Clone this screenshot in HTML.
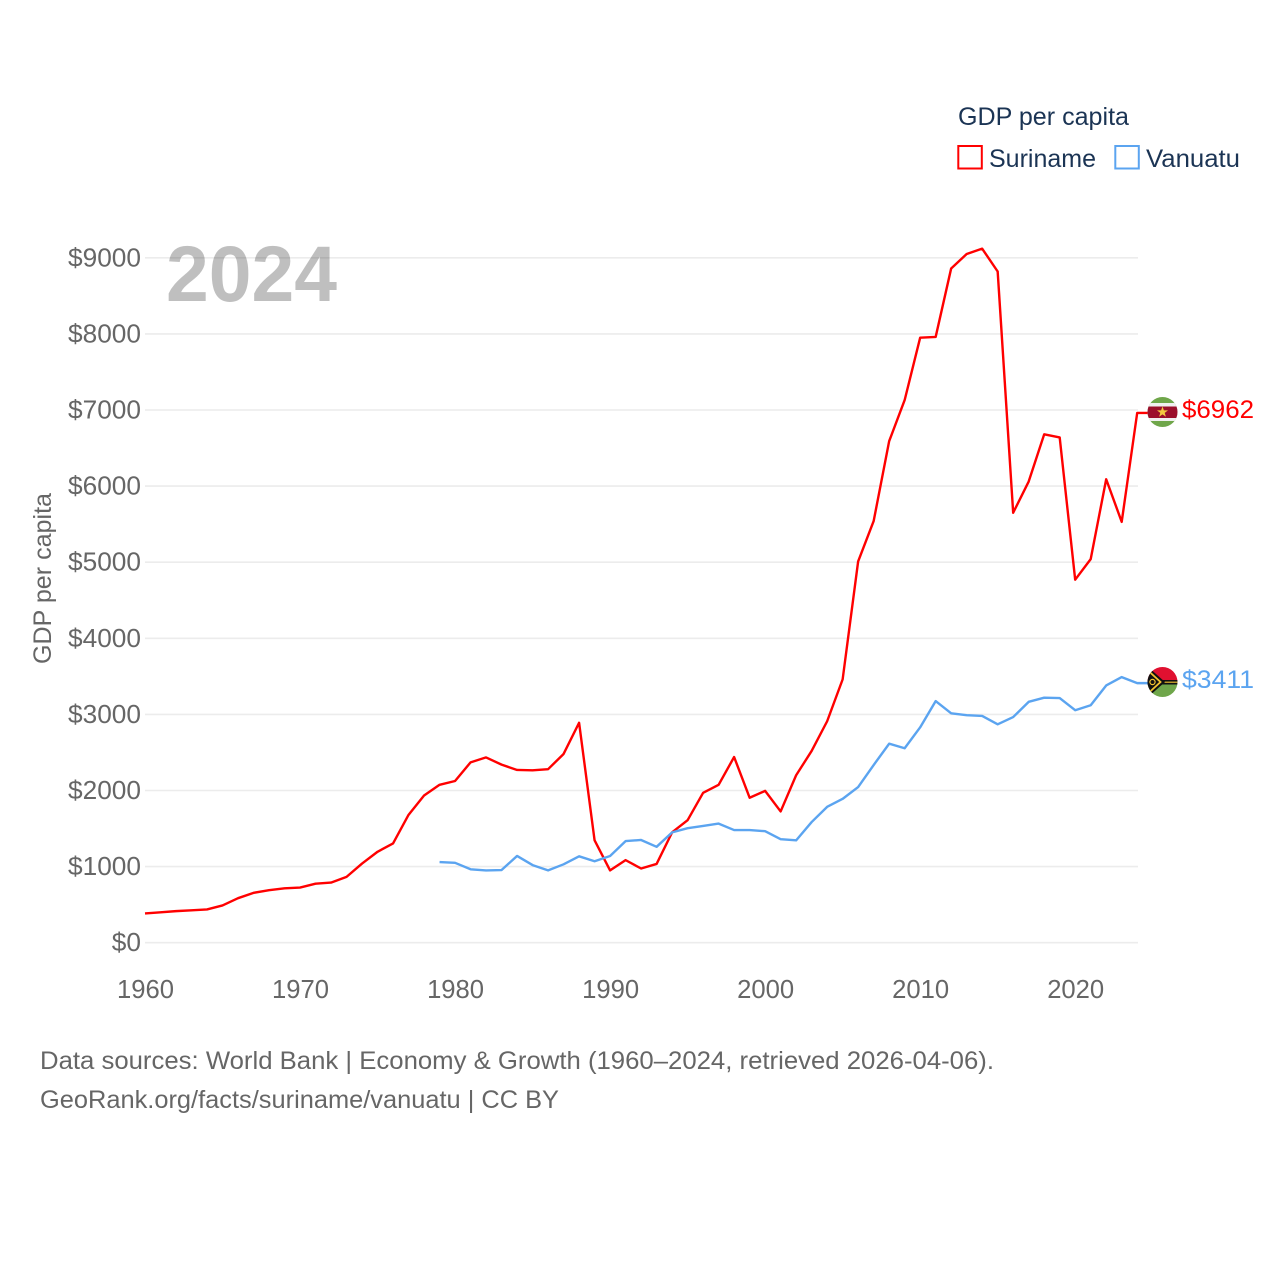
<!DOCTYPE html>
<html lang="en">
<head>
<meta charset="utf-8">
<title>GDP per capita: Suriname and Vanuatu</title>
<style>
html,body{margin:0;padding:0;background:#fff;width:1280px;height:1280px;overflow:hidden}
svg{display:block}
text{font-family:"Liberation Sans",sans-serif}
</style>
</head>
<body>
<svg id="chart" width="1280" height="1280" viewBox="0 0 1280 1280" xmlns="http://www.w3.org/2000/svg">
  <defs>
    <clipPath id="clip-sr"><circle cx="1162.5" cy="412" r="15"/></clipPath>
    <clipPath id="clip-vu"><circle cx="1162.5" cy="682" r="15"/></clipPath>
  </defs>
  <g id="grid"></g>
  <g id="y-ticks"></g>
  <g id="x-ticks"></g>
  <text x="166" y="301" font-size="79" font-weight="700" fill="#000000" fill-opacity="0.25" textLength="171" lengthAdjust="spacingAndGlyphs">2024</text>
  <text transform="translate(51,664) rotate(-90)" font-size="25" fill="#666666" textLength="171" lengthAdjust="spacingAndGlyphs">GDP per capita</text>
  <g id="series"></g>

  <g clip-path="url(#clip-sr)">
    <rect x="1147" y="397" width="31" height="30" fill="#6fa64a"/>
    <rect x="1147" y="403" width="31" height="18" fill="#f0f0f0"/>
    <rect x="1147" y="406.5" width="31" height="11.5" fill="#9b0f2b"/>
    <polygon points="1162.5,406.5 1163.9,410.4 1168,410.4 1164.7,412.9 1165.9,416.8 1162.5,414.4 1159.1,416.8 1160.3,412.9 1157,410.4 1161.1,410.4" fill="#f4c93f"/>
  </g>
  <g clip-path="url(#clip-vu)">
    <rect x="1147" y="667" width="31" height="15" fill="#e01030"/>
    <rect x="1147" y="682" width="31" height="15" fill="#6fa64a"/>
    <rect x="1147" y="680" width="31" height="4.5" fill="#111111"/>
    <line x1="1160" y1="682.2" x2="1178" y2="682.2" stroke="#f2c230" stroke-width="1.2"/>
    <polygon points="1147,666 1165,682 1147,698" fill="#111111"/>
    <polyline points="1148,670.5 1160.5,682 1148,693.5" fill="none" stroke="#f2c230" stroke-width="1.8"/>
    <circle cx="1152.5" cy="682" r="2.6" fill="none" stroke="#f2c230" stroke-width="1.2"/>
  </g>

  <text id="label-sr" x="1182" y="418" font-size="25" fill="#ff0000" textLength="72" lengthAdjust="spacingAndGlyphs"></text>
  <text id="label-vu" x="1182" y="688" font-size="25" fill="#5ba4f0" textLength="72" lengthAdjust="spacingAndGlyphs"></text>

  <g>
    <text x="958" y="125" font-size="25" fill="#1b3454" textLength="171" lengthAdjust="spacingAndGlyphs">GDP per capita</text>
    <g>
      <rect x="958.3" y="146" width="23.5" height="22.5" fill="none" stroke="#ff0000" stroke-width="2"/>
      <text x="989" y="167" font-size="25" fill="#1b3454" textLength="107" lengthAdjust="spacingAndGlyphs">Suriname</text>
    </g>
    <g>
      <rect x="1115.3" y="146" width="23.5" height="22.5" fill="none" stroke="#5ba4f0" stroke-width="2"/>
      <text x="1146" y="167" font-size="25" fill="#1b3454" textLength="94" lengthAdjust="spacingAndGlyphs">Vanuatu</text>
    </g>
  </g>

  <text x="40" y="1069" font-size="25" fill="#666666" textLength="954" lengthAdjust="spacingAndGlyphs">Data sources: World Bank | Economy &amp; Growth (1960–2024, retrieved 2026-04-06).</text>
  <text x="40" y="1108" font-size="25" fill="#666666" textLength="519" lengthAdjust="spacingAndGlyphs">GeoRank.org/facts/suriname/vanuatu | CC BY</text>
</svg>
<script>
const firstYear = 1960;
const lastYear = 2024;
const vanuatuFirstYear = 1979;
const yTickValues = [0, 1000, 2000, 3000, 4000, 5000, 6000, 7000, 8000, 9000];
const xTickValues = [1960, 1970, 1980, 1990, 2000, 2010, 2020];
const surinameValues = [385, 400, 415, 425, 437, 490, 585, 655, 690, 715, 725, 775, 790, 865, 1040, 1195, 1305, 1680, 1935, 2075, 2125, 2370, 2435, 2340, 2270, 2265, 2280, 2480, 2890, 1345, 950, 1085, 975, 1035, 1450, 1610, 1970, 2075, 2440, 1905, 1995, 1725, 2200, 2520, 2910, 3460, 5010, 5540, 6590, 7130, 7950, 7960, 8860, 9050, 9120, 8820, 5650, 6060, 6680, 6640, 4770, 5040, 6090, 5530, 6962];
const vanuatuValues = [1060, 1050, 965, 950, 955, 1140, 1020, 950, 1030, 1135, 1070, 1140, 1335, 1350, 1260, 1450, 1505, 1535, 1565, 1480, 1480, 1465, 1360, 1345, 1585, 1785, 1890, 2045, 2335, 2615, 2555, 2830, 3175, 3015, 2990, 2980, 2870, 2965, 3165, 3220, 3215, 3055, 3120, 3380, 3490, 3411];

const NS = 'http://www.w3.org/2000/svg';
const plotLeft = 145, plotRight = 1137.2, gridRight = 1138, yZero = 942.7, pxPerUnit = 0.0761;
const flagLeft = 1148;
function xScale(year) { return plotLeft + (year - firstYear) * (plotRight - plotLeft) / (lastYear - firstYear); }
function yScale(value) { return yZero - value * pxPerUnit; }

const gridGroup = document.getElementById('grid');
const yTickGroup = document.getElementById('y-ticks');
const xTickGroup = document.getElementById('x-ticks');
const seriesGroup = document.getElementById('series');

yTickValues.forEach(function (v) {
  const line = document.createElementNS(NS, 'line');
  
  
  line.setAttribute('x1', plotLeft);
  line.setAttribute('x2', gridRight);
  line.setAttribute('y1', yScale(v));
  line.setAttribute('y2', yScale(v));
  line.setAttribute('stroke', '#ececec');
  line.setAttribute('stroke-width', '1.6');
  gridGroup.appendChild(line);

  const label = '$' + v;
  const t = document.createElementNS(NS, 'text');
  
  
  const w = label.length * 14.6;
  t.setAttribute('x', 141 - w);
  t.setAttribute('y', yScale(v) + 8.5);
  t.setAttribute('font-size', '25.5');
  t.setAttribute('fill', '#666666');
  t.setAttribute('textLength', w);
  t.setAttribute('lengthAdjust', 'spacingAndGlyphs');
  t.textContent = label;
  yTickGroup.appendChild(t);
});

xTickValues.forEach(function (year) {
  const t = document.createElementNS(NS, 'text');
  
  
  t.setAttribute('x', xScale(year) - 28);
  t.setAttribute('y', 998);
  t.setAttribute('font-size', '25.5');
  t.setAttribute('fill', '#666666');
  t.setAttribute('textLength', '57');
  t.setAttribute('lengthAdjust', 'spacingAndGlyphs');
  t.textContent = String(year);
  xTickGroup.appendChild(t);
});

function linePoints(values, startYear) {
  const pts = values.map(function (v, i) {
    return xScale(startYear + i).toFixed(2) + ',' + yScale(v).toFixed(2);
  });
  pts.push(flagLeft + ',' + yScale(values[values.length - 1]).toFixed(2));
  return pts.join(' ');
}

const redLine = document.createElementNS(NS, 'polyline');


redLine.setAttribute('points', linePoints(surinameValues, firstYear));
redLine.setAttribute('fill', 'none');
redLine.setAttribute('stroke', '#ff0000');
redLine.setAttribute('stroke-width', '2.4');
redLine.setAttribute('stroke-linejoin', 'round');
seriesGroup.appendChild(redLine);

const blueLine = document.createElementNS(NS, 'polyline');


blueLine.setAttribute('points', linePoints(vanuatuValues, vanuatuFirstYear));
blueLine.setAttribute('fill', 'none');
blueLine.setAttribute('stroke', '#5ba4f0');
blueLine.setAttribute('stroke-width', '2.4');
blueLine.setAttribute('stroke-linejoin', 'round');
seriesGroup.appendChild(blueLine);

document.getElementById('label-sr').textContent = '$' + surinameValues[surinameValues.length - 1];
document.getElementById('label-vu').textContent = '$' + vanuatuValues[vanuatuValues.length - 1];
</script>
</body>
</html>
